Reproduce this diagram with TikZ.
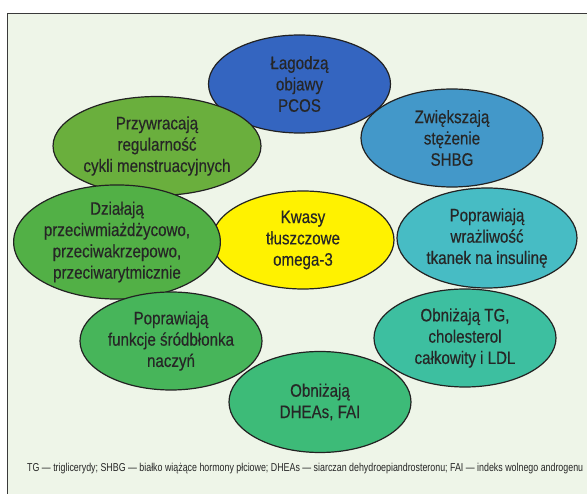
\documentclass[tikz,border=0pt]{standalone}
\usepackage{fontspec}
\setmainfont{Liberation Sans}[FakeStretch=0.85]
\newfontfamily\bubfont{Liberation Sans}[FakeStretch=0.84,FakeBold=0.4]
\usetikzlibrary{shapes.geometric}
\definecolor{bgc}{HTML}{EEF5E8}
\definecolor{framec}{HTML}{3A3A3A}
\definecolor{linec}{HTML}{222222}
\definecolor{textc}{HTML}{262626}
\definecolor{cblue}{HTML}{3465C0}
\definecolor{cgreenA}{HTML}{6AAF3D}
\definecolor{csky}{HTML}{4398C9}
\definecolor{cyellow}{HTML}{FFF200}
\definecolor{cgreenB}{HTML}{52B046}
\definecolor{cteal}{HTML}{47BCC4}
\definecolor{cgreenC}{HTML}{47B55A}
\definecolor{ctealB}{HTML}{3DBFA0}
\definecolor{cgreenD}{HTML}{3DBB78}
\tikzset{
  bub/.style={ellipse, draw=linec, line width=1.2pt, minimum width=182pt,
    minimum height=98pt, inner sep=0pt, align=center, text=textc,
    font=\bubfont\fontsize{18}{21.3}\selectfont},
  foot/.style={anchor=base west, inner sep=0pt, text=textc}
}
\begin{document}
\begin{tikzpicture}[x=1pt,y=-1pt]
\useasboundingbox (0,0) rectangle (587,494);
\clip (0,0) rectangle (587,494);
\fill[white] (0,0) rectangle (587,494);
\draw[fill=bgc, draw=framec, line width=1.5pt] (7.5,13.5) rectangle (600,510);
\node[bub, fill=cblue]   (a) at (299.5,84) {Łagodzą\\objawy\\PCOS};
\node[bub, fill=cgreenA, minimum width=180pt, minimum height=99pt] (b) at (157,146) {Przywracają\\regularność\\cykli menstruacyjnych};
\node[bub, fill=csky]    (c) at (452,138) {Zwiększają\\stężenie\\SHBG};
\node[bub, fill=cyellow] (d) at (303,240) {Kwasy\\tłuszczowe\\omega-3};
\node[bub, fill=cgreenB] (e) at (117,242) {Działają\\przeciwmiażdżycowo,\\przeciwakrzepowo,\\przeciwarytmicznie};
\node[bub, fill=cteal, minimum width=180pt, minimum height=100pt] (f) at (487,238) {Poprawiają\\wrażliwość\\tkanek na insulinę};
\node[bub, fill=cgreenC] (g) at (171,341) {Poprawiają\\funkcje śródbłonka\\naczyń};
\node[bub, fill=ctealB]  (h) at (465,338) {Obniżają TG,\\cholesterol\\całkowity i LDL};
\node[bub, fill=cgreenD, minimum height=101pt] (i) at (320,402) {Obniżają\\DHEAs, FAI};
\node[foot] (n) at (27,472) {\resizebox{556pt}{8.3pt}{TG — triglicerydy; SHBG — białko wiążące hormony płciowe; DHEAs — siarczan dehydroepiandrosteronu; FAI — indeks wolnego androgenu}};
\end{tikzpicture}
\end{document}
